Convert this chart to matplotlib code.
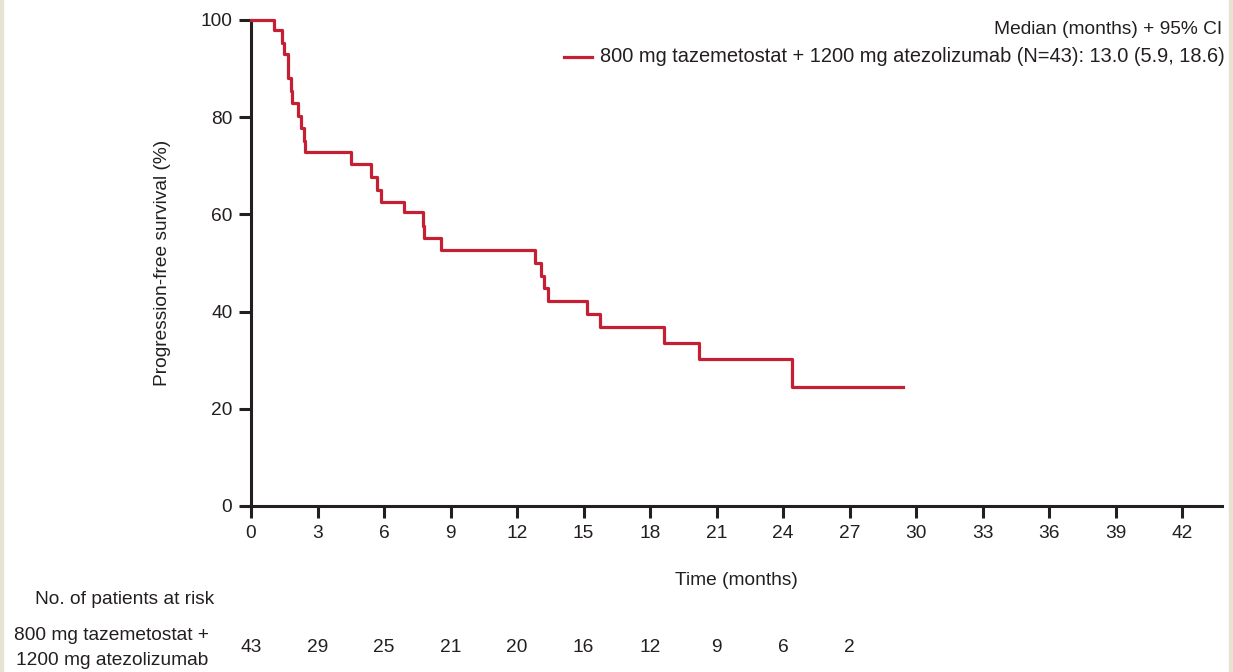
import matplotlib
matplotlib.use("Agg")
import matplotlib.pyplot as plt
from matplotlib.patches import Rectangle
from matplotlib.transforms import blended_transform_factory

plt.rcParams['font.family'] = ['Liberation Sans', 'DejaVu Sans']

# KM step data: (time in months, PFS %)
times = [0, 1.04, 1.40, 1.50, 1.68, 1.79, 1.83, 2.13, 2.24, 2.39, 2.43,
         4.50, 5.41, 5.70, 5.85, 6.92, 7.74, 7.80, 8.57,
         12.81, 13.07, 13.23, 13.38, 15.17, 15.74, 18.64, 20.22, 24.39]
pfs = [100, 97.9, 95.3, 93.0, 88.0, 85.4, 83.0, 80.3, 77.7, 75.2, 72.9,
       70.4, 67.7, 65.1, 62.6, 60.4, 57.6, 55.2, 52.7,
       50.0, 47.4, 44.8, 42.2, 39.5, 36.9, 33.6, 30.3, 24.4]
t_end = 29.4

tick_months = list(range(0, 43, 3))
risk_times = [0, 3, 6, 9, 12, 15, 18, 21, 24, 27]
at_risk = [43, 29, 25, 21, 20, 16, 12, 9, 6, 2]

red = "#c41f32"
ink = "#231f20"
fs = 13.8
W, H = 1233, 672
fig = plt.figure(figsize=(W / 100, H / 100), dpi=100)
fig.patch.set_facecolor("white")
# beige frame edges
fig.patches.append(Rectangle((0, 0), 3 / W, 1, transform=fig.transFigure, color="#e8e2d2", zorder=-1))
fig.patches.append(Rectangle((1229 / W, 0), 4 / W, 1, transform=fig.transFigure, color="#e8e2d2", zorder=-1))

ax = fig.add_axes([251 / W, 1 - 506 / H, (1222 - 251) / W, (506 - 20) / H])
xmax = (1222 - 251) / 22.17
ax.step(times + [t_end], pfs + [pfs[-1]], where="post", color=red, lw=2.3,
        clip_on=False, zorder=3)
ax.set_xlim(0, xmax)
ax.set_ylim(0, 100)
ax.set_xticks(tick_months)
ax.set_yticks([0, 20, 40, 60, 80, 100])
for s in ["top", "right"]:
    ax.spines[s].set_visible(False)
for s in ["left", "bottom"]:
    ax.spines[s].set_linewidth(2.2)
    ax.spines[s].set_color(ink)
ax.tick_params(direction="out", length=8.5, width=2.2, color=ink,
               labelsize=fs, labelcolor=ink, pad=5)
ax.set_xlabel("Time (months)", fontsize=fs, color=ink, labelpad=22)
ax.set_ylabel("Progression-free survival (%)", fontsize=fs, color=ink, labelpad=21)

# legend
fig.text(1222 / W, 1 - 30 / H, "Median (months) + 95% CI", ha="right", va="center",
         fontsize=fs, color=ink)
fig.add_artist(plt.Line2D([564 / W, 592 / W], [1 - 57 / H, 1 - 57 / H],
                          transform=fig.transFigure, color=red, lw=2.3))
fig.text(600 / W, 1 - 57 / H,
         "800 mg tazemetostat + 1200 mg atezolizumab (N=43): 13.0 (5.9, 18.6)",
         ha="left", va="center", fontsize=14.4, color=ink)

# number at risk table
fig.text(214 / W, 1 - 600 / H, "No. of patients at risk", ha="right", va="center",
         fontsize=fs, color=ink)
fig.text(112 / W, 1 - 648 / H, "800 mg tazemetostat +\n1200 mg atezolizumab",
         ha="center", va="center", fontsize=fs, color=ink, linespacing=1.55)
tr = blended_transform_factory(ax.transData, fig.transFigure)
for t, n in zip(risk_times, at_risk):
    ax.text(t, 1 - 648 / H, str(n), transform=tr,
            ha="center", va="center", fontsize=fs, color=ink)

fig.savefig("out.png", dpi=100)
